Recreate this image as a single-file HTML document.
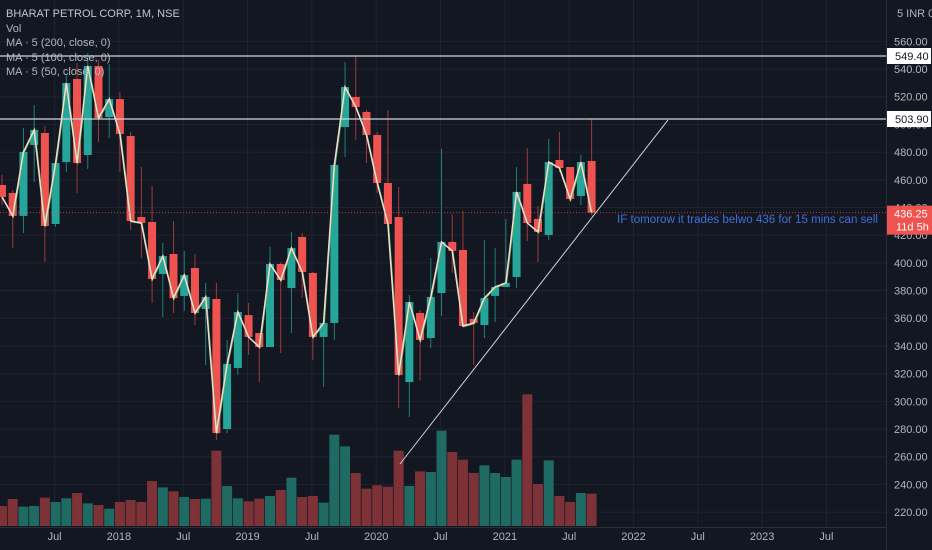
<!DOCTYPE html>
<html><head><meta charset="utf-8">
<style>
html,body{margin:0;padding:0;background:#131722;}
body{width:932px;height:550px;overflow:hidden;position:relative;font-family:"Liberation Sans",sans-serif;}
.lg{position:absolute;left:6px;font-size:11px;color:#b2b5be;white-space:nowrap;}
</style></head><body>
<svg id="chart" width="932" height="550" style="position:absolute;left:0;top:0" xmlns="http://www.w3.org/2000/svg">
<g id="grid"></g><g id="vol"></g><g id="cand"></g><g id="ma"></g><g id="over"></g><g id="axis"></g>
</svg>
<div class="lg" style="top:8px;color:#c3c6ce">BHARAT PETROL CORP, 1M, NSE</div>
<div class="lg" style="top:23px">Vol</div>
<div class="lg" style="top:37px">MA · 5 (200, close, 0)</div>
<div class="lg" style="top:52px">MA · 5 (100, close, 0)</div>
<div class="lg" style="top:66px">MA · 5 (50, close, 0)</div>
<script>
const opens =[456.2,450.5,433.9,485.1,493.8,428.1,472.8,532.8,477.9,542.2,505.3,518.3,491.6,433.1,429.5,392.0,406.4,376.1,396.3,366.7,373.9,280.0,324.1,362.3,349.3,339.2,399.2,381.8,418.7,392.7,346.5,356.6,498.1,519.8,509.0,492.4,457.7,433.1,313.9,363.8,345.7,378.2,415.1,409.3,359.5,355.1,376.1,382.6,389.8,457.0,431.7,420.1,474.3,469.2,448.3,473.6];
const highs =[463.5,452.6,497.4,514.0,498.8,474.0,535.7,544.3,551.6,546.5,543.6,523.4,494.5,469.2,455.5,414.3,430.2,408.6,406.4,385.5,385.5,344.3,378.2,371.0,349.3,411.5,400.6,422.3,421.6,393.4,356.6,472.1,545.1,549.4,510.4,494.5,510.4,454.8,376.8,366.0,403.5,482.2,435.0,437.5,364.5,416.5,410.7,431.7,469.2,482.9,441.1,489.5,494.5,469.2,478.0,503.9];
const lows  =[441.8,410.7,421.6,458.4,400.6,426.0,465.6,450.5,467.8,487.3,490.2,465.6,423.7,403.5,371.0,360.9,363.8,365.2,355.1,326.3,272.1,277.1,319.0,333.5,314.0,339.2,334.9,349.3,374.6,329.9,310.4,344.3,476.4,488.7,472.1,450.5,424.5,295.0,288.7,315.0,338.5,361.6,392.7,353.7,326.3,345.7,357.3,382.6,381.8,415.8,400.6,416.5,465.6,444.0,441.8,434.6];
const closes=[447.6,433.9,480.1,496.0,426.6,472.1,529.9,472.1,542.2,504.6,518.3,493.1,430.2,428.8,388.4,404.9,374.6,391.2,363.8,375.4,277.1,327.0,364.5,346.5,339.2,399.2,387.6,410.7,393.4,346.5,356.6,470.7,527.0,512.6,492.4,457.7,428.1,319.0,371.7,344.3,375.4,415.1,408.6,354.4,356.6,374.6,382.6,385.5,451.2,428.8,422.3,472.8,468.5,446.1,472.8,436.25];
const volumes=[60,81,58,60,85,72,83,99,68,63,52,72,78,72,135,116,104,87,81,82,226,120,83,74,82,90,108,145,87,90,70,274,239,159,112,122,118,226,120,164,162,286,222,199,159,182,159,147,199,395,126,197,90,72,99,97];
const priceTicks=[560,540,520,500,480,460,440,420,400,380,360,340,320,300,280,260,240,220];
const timeLabels=["Jul","2018","Jul","2019","Jul","2020","Jul","2021","Jul","2022","Jul","2023","Jul"];
const timeLabelMonths=[5,11,17,23,29,35,41,47,53,59,65,71,77];
const levels=[549.40,503.90];
const lastPrice=436.25;

const NS="http://www.w3.org/2000/svg";
const PW=886;
function yP(p){return 56+(549.4-p)*1.3846;}
function xI(i){return 2+i*10.72;}
function yV(v){return 526-v/3;}
function mk(tag,attrs,parent){const e=document.createElementNS(NS,tag);for(const k in attrs)e.setAttribute(k,attrs[k]);parent.appendChild(e);return e;}
const G=id=>document.getElementById(id);
const green="#26a69a",red="#ef5350";

priceTicks.forEach(p=>{
  const y=yP(p);
  const l=mk('line',{x1:0,x2:PW,y1:y,y2:y,stroke:'#1f2330','stroke-width':1},G('grid'));
  
  
  const t=mk('text',{x:894,y:y+4,fill:'#b2b5be','font-size':11,'font-family':'Liberation Sans, sans-serif'},G('axis'));
  t.textContent=p.toFixed(2);
  
  
});
timeLabels.forEach((s,k)=>{
  const x=xI(timeLabelMonths[k])-1;
  const l=mk('line',{x1:x,x2:x,y1:0,y2:527,stroke:'#1f2330','stroke-width':1},G('grid'));
  
  
  const t=mk('text',{x:x,y:540,fill:'#b2b5be','font-size':11,'text-anchor':'middle','font-family':'Liberation Sans, sans-serif'},G('axis'));
  t.textContent=s;
  
  
});
mk('line',{x1:PW+0.5,x2:PW+0.5,y1:0,y2:550,stroke:'#2a2e39'},G('axis'));
mk('line',{x1:0,x2:PW,y1:527.5,y2:527.5,stroke:'#2a2e39'},G('axis'));

volumes.forEach((v,i)=>{
  const up=closes[i]>=opens[i];
  const r=mk('rect',{x:xI(i)-5,y:yV(v),width:10,height:526-yV(v),fill:up?'#1f6a63':'#7c3237'},G('vol'));
  
  
});
opens.forEach((o,i)=>{
  const c=closes[i],up=c>=o,col=up?green:red,x=xI(i);
  const w=mk('line',{x1:x,x2:x,y1:yP(highs[i]),y2:yP(lows[i]),stroke:up?'#1f8077':'#a03a3a','stroke-width':1},G('cand'));
  
  
  const top=yP(Math.max(o,c)),bot=yP(Math.min(o,c));
  const r=mk('rect',{x:x-4,y:top,width:8,height:Math.max(1,bot-top),fill:col},G('cand'));
  
  
});
const pts=closes.map((c,i)=>xI(i)+','+yP(c)).join(' ');
const m1=mk('polyline',{points:pts,fill:'none',stroke:'#4caf50','stroke-width':1.2,transform:'translate(0.7,0.7)'},G('ma'));


const m2=mk('polyline',{points:pts,fill:'none',stroke:'#f7d9d4','stroke-width':1.5},G('ma'));



levels.forEach(p=>{
  const y=yP(p);
  const l=mk('line',{x1:0,x2:PW,y1:y,y2:y,stroke:'#d1d4dc','stroke-width':1.3},G('over'));
  
  
  const r=mk('rect',{x:PW+1,y:y-8,width:44,height:16,fill:'#ffffff'},G('axis'));
  
  
  const t=mk('text',{x:895,y:y+4,fill:'#131722','font-size':11,'font-family':'Liberation Sans, sans-serif'},G('axis'));
  t.textContent=p.toFixed(2);
  
  
});
const ly=yP(lastPrice);
const lp=mk('line',{x1:0,x2:PW,y1:ly,y2:ly,stroke:'#ef5350','stroke-width':1,'stroke-dasharray':'1,2','stroke-opacity':0.7},G('over'));


const lr=mk('rect',{x:PW+1,y:ly-7,width:45,height:29,fill:'#ef5350'},G('axis'));


const lt=mk('text',{x:894,y:ly+5,fill:'#ffffff','font-size':11,'font-family':'Liberation Sans, sans-serif'},G('axis'));
lt.textContent=lastPrice.toFixed(2);


const lt2=mk('text',{x:896,y:ly+18,fill:'#ffffff','font-size':11,'font-family':'Liberation Sans, sans-serif'},G('axis'));
lt2.textContent='11d 5h';


const tl=mk('line',{x1:400,y1:464,x2:668,y2:120,stroke:'#d1d4dc','stroke-width':1},G('over'));


const an=mk('text',{x:617,y:223,fill:'#3f6fd8','font-size':11.5,textLength:261,lengthAdjust:'spacingAndGlyphs','font-family':'Liberation Sans, sans-serif'},G('over'));
an.textContent='IF tomorow it trades belwo 436 for 15 mins  can sell';


const cur=mk('text',{x:897,y:17,fill:'#b2b5be','font-size':11,'font-family':'Liberation Sans, sans-serif'},G('axis'));
cur.textContent='5 INR 0';


</script>
</body></html>
